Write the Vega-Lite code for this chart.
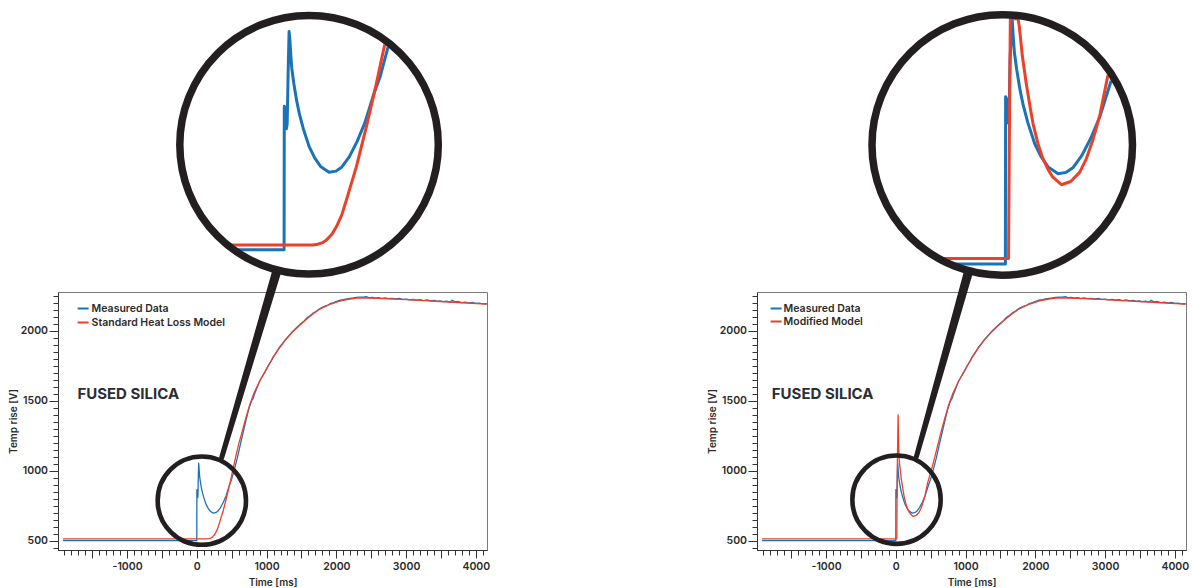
{
"$schema": "https://vega.github.io/schema/vega-lite/v6.json",
"padding": {"left": 8, "top": 10, "right": 5, "bottom": 3},
"background": "white",
"config": {
  "view": {"stroke": "#7a7a7a", "strokeWidth": 1},
  "font": "Inter",
  "axis": {"grid": false, "labelFont": "Inter", "labelFontSize": 10.5, "labelFontWeight": 600, "labelColor": "#2b2b2b", "titleFont": "Inter", "titleFontSize": 10, "titleFontWeight": 600, "titleColor": "#2b2b2b", "domainColor": "#333333", "tickColor": "#333333", "tickWidth": 1}
},
"datasets": {
  "curves": [
{"s":"Measured Data","t":-1920,"v":500},{"s":"Measured Data","t":-1500,"v":500},{"s":"Measured Data","t":-1000,"v":500},{"s":"Measured Data","t":-500,"v":500},{"s":"Measured Data","t":-300,"v":500},{"s":"Measured Data","t":-280,"v":500},{"s":"Measured Data","t":-260,"v":500},{"s":"Measured Data","t":-240,"v":500},{"s":"Measured Data","t":-220,"v":500},{"s":"Measured Data","t":-200,"v":500},{"s":"Measured Data","t":-100,"v":500},{"s":"Measured Data","t":0,"v":500},{"s":"Measured Data","t":1,"v":865},{"s":"Measured Data","t":5,"v":860},{"s":"Measured Data","t":12,"v":808},{"s":"Measured Data","t":16,"v":820},{"s":"Measured Data","t":21,"v":950},{"s":"Measured Data","t":26,"v":1055},{"s":"Measured Data","t":30,"v":1035},{"s":"Measured Data","t":35,"v":995},{"s":"Measured Data","t":40,"v":962},{"s":"Measured Data","t":50,"v":925},{"s":"Measured Data","t":65,"v":880},{"s":"Measured Data","t":80,"v":845},{"s":"Measured Data","t":100,"v":808},{"s":"Measured Data","t":130,"v":763},{"s":"Measured Data","t":160,"v":733},{"s":"Measured Data","t":190,"v":712},{"s":"Measured Data","t":234,"v":697},{"s":"Measured Data","t":270,"v":700},{"s":"Measured Data","t":300,"v":710},{"s":"Measured Data","t":340,"v":737},{"s":"Measured Data","t":380,"v":775},{"s":"Measured Data","t":420,"v":822},{"s":"Measured Data","t":470,"v":900},{"s":"Measured Data","t":500,"v":940},{"s":"Measured Data","t":542,"v":1017},{"s":"Measured Data","t":580,"v":1090},{"s":"Measured Data","t":640,"v":1222},{"s":"Measured Data","t":700,"v":1350},{"s":"Measured Data","t":740,"v":1432},{"s":"Measured Data","t":770,"v":1480},{"s":"Measured Data","t":790,"v":1505},{"s":"Measured Data","t":805,"v":1515},{"s":"Measured Data","t":830,"v":1552},{"s":"Measured Data","t":860,"v":1590},{"s":"Measured Data","t":900,"v":1640},{"s":"Measured Data","t":940,"v":1676},{"s":"Measured Data","t":976,"v":1706},{"s":"Measured Data","t":1010,"v":1738},{"s":"Measured Data","t":1040,"v":1765},{"s":"Measured Data","t":1070,"v":1788},{"s":"Measured Data","t":1095,"v":1815},{"s":"Measured Data","t":1130,"v":1840},{"s":"Measured Data","t":1180,"v":1880},{"s":"Measured Data","t":1220,"v":1905},{"s":"Measured Data","t":1263,"v":1935},{"s":"Measured Data","t":1320,"v":1966},{"s":"Measured Data","t":1380,"v":2000},{"s":"Measured Data","t":1440,"v":2028},{"s":"Measured Data","t":1502,"v":2057},{"s":"Measured Data","t":1540,"v":2072},{"s":"Measured Data","t":1580,"v":2095},{"s":"Measured Data","t":1620,"v":2108},{"s":"Measured Data","t":1669,"v":2129},{"s":"Measured Data","t":1710,"v":2140},{"s":"Measured Data","t":1750,"v":2155},{"s":"Measured Data","t":1790,"v":2168},{"s":"Measured Data","t":1836,"v":2178},{"s":"Measured Data","t":1880,"v":2186},{"s":"Measured Data","t":1920,"v":2198},{"s":"Measured Data","t":1960,"v":2203},{"s":"Measured Data","t":2004,"v":2212},{"s":"Measured Data","t":2050,"v":2220},{"s":"Measured Data","t":2100,"v":2224},{"s":"Measured Data","t":2150,"v":2230},{"s":"Measured Data","t":2195,"v":2233},{"s":"Measured Data","t":2240,"v":2236},{"s":"Measured Data","t":2290,"v":2240},{"s":"Measured Data","t":2340,"v":2243},{"s":"Measured Data","t":2386,"v":2243},{"s":"Measured Data","t":2430,"v":2246},{"s":"Measured Data","t":2470,"v":2238},{"s":"Measured Data","t":2520,"v":2241},{"s":"Measured Data","t":2560,"v":2235},{"s":"Measured Data","t":2610,"v":2238},{"s":"Measured Data","t":2650,"v":2232},{"s":"Measured Data","t":2700,"v":2236},{"s":"Measured Data","t":2750,"v":2231},{"s":"Measured Data","t":2800,"v":2234},{"s":"Measured Data","t":2850,"v":2229},{"s":"Measured Data","t":2900,"v":2233},{"s":"Measured Data","t":2950,"v":2226},{"s":"Measured Data","t":3008,"v":2228},{"s":"Measured Data","t":3050,"v":2223},{"s":"Measured Data","t":3100,"v":2227},{"s":"Measured Data","t":3150,"v":2220},{"s":"Measured Data","t":3200,"v":2224},{"s":"Measured Data","t":3250,"v":2218},{"s":"Measured Data","t":3300,"v":2222},{"s":"Measured Data","t":3350,"v":2215},{"s":"Measured Data","t":3400,"v":2219},{"s":"Measured Data","t":3450,"v":2212},{"s":"Measured Data","t":3486,"v":2216},{"s":"Measured Data","t":3530,"v":2210},{"s":"Measured Data","t":3580,"v":2213},{"s":"Measured Data","t":3630,"v":2206},{"s":"Measured Data","t":3660,"v":2220},{"s":"Measured Data","t":3700,"v":2208},{"s":"Measured Data","t":3750,"v":2211},{"s":"Measured Data","t":3800,"v":2203},{"s":"Measured Data","t":3850,"v":2207},{"s":"Measured Data","t":3900,"v":2200},{"s":"Measured Data","t":3950,"v":2204},{"s":"Measured Data","t":4000,"v":2197},{"s":"Measured Data","t":4050,"v":2200},{"s":"Measured Data","t":4100,"v":2194},{"s":"Measured Data","t":4156,"v":2195},
{"s":"Standard Heat Loss Model","t":-1920,"v":512},{"s":"Standard Heat Loss Model","t":-1500,"v":512},{"s":"Standard Heat Loss Model","t":-1000,"v":512},{"s":"Standard Heat Loss Model","t":-500,"v":512},{"s":"Standard Heat Loss Model","t":-300,"v":512},{"s":"Standard Heat Loss Model","t":-280,"v":512},{"s":"Standard Heat Loss Model","t":-260,"v":512},{"s":"Standard Heat Loss Model","t":-240,"v":512},{"s":"Standard Heat Loss Model","t":-220,"v":512},{"s":"Standard Heat Loss Model","t":-200,"v":512},{"s":"Standard Heat Loss Model","t":0,"v":512},{"s":"Standard Heat Loss Model","t":100,"v":512},{"s":"Standard Heat Loss Model","t":150,"v":512},{"s":"Standard Heat Loss Model","t":175,"v":514},{"s":"Standard Heat Loss Model","t":200,"v":518},{"s":"Standard Heat Loss Model","t":221,"v":525},{"s":"Standard Heat Loss Model","t":250,"v":540},{"s":"Standard Heat Loss Model","t":273,"v":559},{"s":"Standard Heat Loss Model","t":300,"v":588},{"s":"Standard Heat Loss Model","t":325,"v":627},{"s":"Standard Heat Loss Model","t":350,"v":668},{"s":"Standard Heat Loss Model","t":377,"v":712},{"s":"Standard Heat Loss Model","t":400,"v":757},{"s":"Standard Heat Loss Model","t":429,"v":814},{"s":"Standard Heat Loss Model","t":455,"v":868},{"s":"Standard Heat Loss Model","t":481,"v":924},{"s":"Standard Heat Loss Model","t":524,"v":1022},{"s":"Standard Heat Loss Model","t":560,"v":1105},{"s":"Standard Heat Loss Model","t":600,"v":1190},{"s":"Standard Heat Loss Model","t":640,"v":1262},{"s":"Standard Heat Loss Model","t":700,"v":1372},{"s":"Standard Heat Loss Model","t":760,"v":1475},{"s":"Standard Heat Loss Model","t":820,"v":1556},{"s":"Standard Heat Loss Model","t":900,"v":1640},{"s":"Standard Heat Loss Model","t":976,"v":1708},{"s":"Standard Heat Loss Model","t":1040,"v":1764},{"s":"Standard Heat Loss Model","t":1095,"v":1812},{"s":"Standard Heat Loss Model","t":1180,"v":1876},{"s":"Standard Heat Loss Model","t":1263,"v":1931},{"s":"Standard Heat Loss Model","t":1380,"v":1997},{"s":"Standard Heat Loss Model","t":1502,"v":2054},{"s":"Standard Heat Loss Model","t":1580,"v":2088},{"s":"Standard Heat Loss Model","t":1669,"v":2124},{"s":"Standard Heat Loss Model","t":1750,"v":2152},{"s":"Standard Heat Loss Model","t":1836,"v":2174},{"s":"Standard Heat Loss Model","t":1920,"v":2193},{"s":"Standard Heat Loss Model","t":2004,"v":2207},{"s":"Standard Heat Loss Model","t":2100,"v":2220},{"s":"Standard Heat Loss Model","t":2195,"v":2229},{"s":"Standard Heat Loss Model","t":2290,"v":2235},{"s":"Standard Heat Loss Model","t":2386,"v":2237},{"s":"Standard Heat Loss Model","t":2500,"v":2236},{"s":"Standard Heat Loss Model","t":2700,"v":2232},{"s":"Standard Heat Loss Model","t":3008,"v":2224},{"s":"Standard Heat Loss Model","t":3250,"v":2218},{"s":"Standard Heat Loss Model","t":3486,"v":2211},{"s":"Standard Heat Loss Model","t":3800,"v":2202},{"s":"Standard Heat Loss Model","t":4156,"v":2192},
{"s":"Modified Model","t":-1920,"v":512},{"s":"Modified Model","t":-1500,"v":512},{"s":"Modified Model","t":-1000,"v":512},{"s":"Modified Model","t":-500,"v":512},{"s":"Modified Model","t":-300,"v":512},{"s":"Modified Model","t":-280,"v":512},{"s":"Modified Model","t":-260,"v":512},{"s":"Modified Model","t":-240,"v":512},{"s":"Modified Model","t":-220,"v":512},{"s":"Modified Model","t":-200,"v":512},{"s":"Modified Model","t":0,"v":512},{"s":"Modified Model","t":14,"v":512},{"s":"Modified Model","t":18,"v":800},{"s":"Modified Model","t":22,"v":1035},{"s":"Modified Model","t":28,"v":1250},{"s":"Modified Model","t":33,"v":1400},{"s":"Modified Model","t":38,"v":1250},{"s":"Modified Model","t":44,"v":1130},{"s":"Modified Model","t":50,"v":1070},{"s":"Modified Model","t":56,"v":1036},{"s":"Modified Model","t":62,"v":1018},{"s":"Modified Model","t":75,"v":955},{"s":"Modified Model","t":93,"v":893},{"s":"Modified Model","t":110,"v":842},{"s":"Modified Model","t":123,"v":806},{"s":"Modified Model","t":145,"v":762},{"s":"Modified Model","t":167,"v":730},{"s":"Modified Model","t":190,"v":706},{"s":"Modified Model","t":210,"v":690},{"s":"Modified Model","t":249,"v":673},{"s":"Modified Model","t":290,"v":680},{"s":"Modified Model","t":330,"v":700},{"s":"Modified Model","t":360,"v":730},{"s":"Modified Model","t":389,"v":771},{"s":"Modified Model","t":420,"v":825},{"s":"Modified Model","t":456,"v":913},{"s":"Modified Model","t":500,"v":988},{"s":"Modified Model","t":540,"v":1062},{"s":"Modified Model","t":580,"v":1140},{"s":"Modified Model","t":640,"v":1262},{"s":"Modified Model","t":700,"v":1372},{"s":"Modified Model","t":760,"v":1475},{"s":"Modified Model","t":820,"v":1556},{"s":"Modified Model","t":900,"v":1640},{"s":"Modified Model","t":976,"v":1708},{"s":"Modified Model","t":1040,"v":1764},{"s":"Modified Model","t":1095,"v":1812},{"s":"Modified Model","t":1180,"v":1876},{"s":"Modified Model","t":1263,"v":1931},{"s":"Modified Model","t":1380,"v":1997},{"s":"Modified Model","t":1502,"v":2054},{"s":"Modified Model","t":1580,"v":2088},{"s":"Modified Model","t":1669,"v":2124},{"s":"Modified Model","t":1750,"v":2152},{"s":"Modified Model","t":1836,"v":2174},{"s":"Modified Model","t":1920,"v":2193},{"s":"Modified Model","t":2004,"v":2207},{"s":"Modified Model","t":2100,"v":2220},{"s":"Modified Model","t":2195,"v":2229},{"s":"Modified Model","t":2290,"v":2235},{"s":"Modified Model","t":2386,"v":2237},{"s":"Modified Model","t":2500,"v":2236},{"s":"Modified Model","t":2700,"v":2232},{"s":"Modified Model","t":3008,"v":2224},{"s":"Modified Model","t":3250,"v":2218},{"s":"Modified Model","t":3486,"v":2211},{"s":"Modified Model","t":3800,"v":2202},{"s":"Modified Model","t":4156,"v":2192}
  ],
  "lens": [
    {"p":"L","k":"small","t":72,"v":786},
    {"p":"L","k":"wedge","t":357,"v":1095},
    {"p":"L","k":"wedge","t":1136,"v":2410},
    {"p":"L","k":"big","t":130,"v":767},
    {"p":"R","k":"small","t":10,"v":793},
    {"p":"R","k":"wedge","t":296,"v":1103},
    {"p":"R","k":"wedge","t":1034,"v":2410},
    {"p":"R","k":"big","t":-14,"v":760}
  ],
  "notes": [
    {"p":"L","label":"FUSED SILICA","t":-1712,"v":1546},
    {"p":"R","label":"FUSED SILICA","t":-1778,"v":1546}
  ]
},
"spacing": 270,
"bounds": "flush",
"resolve": {"scale": {"color": "independent", "size": "independent"}, "legend": {"color": "independent"}},
"hconcat": [
{
  "width": 429, "height": 258,
  "resolve": {"scale": {"x": "independent", "y": "independent"}},
  "layer": [
    {
      "resolve": {"axis": {"x": "independent", "y": "independent"}},
      "layer": [
        {
          "data": {"name": "curves"},
          "transform": [{"filter": {"field": "s", "oneOf": ["Measured Data", "Standard Heat Loss Model"]}}],
          "mark": {"type": "line", "strokeWidth": 1.3, "strokeJoin": "round", "clip": false},
          "encoding": {
            "x": {"field": "t", "type": "quantitative", "scale": {"domain": [-1990, 4160], "nice": false, "zero": false},
                  "axis": {"orient": "bottom", "values": [-1500,-1000,-500,0,500,1000,1500,2000,2500,3000,3500,4000], "labelExpr": "datum.value % 1000 === 0 ? '' + datum.value : ''", "tickSize": 8, "labelPadding": 3, "title": "Time [ms]", "titlePadding": 6, "labelFlush": false, "labelOverlap": false}},
            "y": {"field": "v", "type": "quantitative", "scale": {"domain": [433, 2279], "nice": false, "zero": false},
                  "axis": {"orient": "left", "values": [500,1000,1500,2000], "labelExpr": "'' + datum.value", "tickSize": 9, "labelPadding": 1.5, "title": "Temp rise [V]", "titlePadding": 1.5, "labelFlush": false}},
            "color": {"field": "s", "type": "nominal",
                      "scale": {"domain": ["Measured Data", "Standard Heat Loss Model"], "range": ["#1a72b8", "#ec4028"]},
                      "legend": {"title": null, "orient": "top-left", "offset": 9.5, "padding": 0, "symbolType": "stroke", "symbolSize": 121, "symbolStrokeWidth": 2, "symbolOffset": 8.6, "labelOffset": 2, "rowPadding": 2, "labelFont": "Inter", "labelFontSize": 10.5, "labelFontWeight": 600, "labelColor": "#2b2b2b"}}
          }
        },
        {
          "data": {"name": "lens"},
          "transform": [{"filter": "datum.p === 'L' && datum.k === 'small'"}],
          "mark": {"type": "point", "shape": "circle", "size": 7800, "filled": false, "color": "#231f20", "strokeWidth": 4.6, "strokeJoin": "round", "opacity": 1, "clip": false},
          "encoding": {
            "x": {"field": "t", "type": "quantitative", "scale": {"domain": [-1990, 4160], "nice": false, "zero": false},
                  "axis": {"orient": "bottom", "values": [-1900,-1800,-1700,-1600,-1500,-1400,-1300,-1200,-1100,-1000,-900,-800,-700,-600,-500,-400,-300,-200,-100,0,100,200,300,400,500,600,700,800,900,1000,1100,1200,1300,1400,1500,1600,1700,1800,1900,2000,2100,2200,2300,2400,2500,2600,2700,2800,2900,3000,3100,3200,3300,3400,3500,3600,3700,3800,3900,4000,4100], "tickSize": 5, "labels": false, "domain": false, "title": null}},
            "y": {"field": "v", "type": "quantitative", "scale": {"domain": [433, 2279], "nice": false, "zero": false},
                  "axis": {"orient": "left", "values": [450,500,550,600,650,700,750,800,850,900,950,1000,1050,1100,1150,1200,1250,1300,1350,1400,1450,1500,1550,1600,1650,1700,1750,1800,1850,1900,1950,2000,2050,2100,2150,2200,2250], "tickSize": 5, "labels": false, "domain": false, "title": null}}
          }
        },
        {
          "data": {"name": "lens"},
          "transform": [{"filter": "datum.p === 'L' && datum.k === 'wedge'"}],
          "mark": {"type": "trail", "color": "#231f20", "clip": false},
          "encoding": {
            "x": {"field": "t", "type": "quantitative", "scale": {"domain": [-1990, 4160], "nice": false, "zero": false}, "axis": null},
            "y": {"field": "v", "type": "quantitative", "scale": {"domain": [433, 2279], "nice": false, "zero": false}, "axis": null},
            "size": {"field": "v", "type": "quantitative", "scale": {"domain": [1095, 2410], "range": [5, 9]}, "legend": null}
          }
        },
        {
          "data": {"name": "notes"},
          "transform": [{"filter": "datum.p === 'L'"}],
          "mark": {"type": "text", "align": "left", "baseline": "middle", "font": "Inter", "fontSize": 15, "fontWeight": 700, "color": "#2b2e33"},
          "encoding": {
            "x": {"field": "t", "type": "quantitative", "scale": {"domain": [-1990, 4160], "nice": false, "zero": false}, "axis": null},
            "y": {"field": "v", "type": "quantitative", "scale": {"domain": [433, 2279], "nice": false, "zero": false}, "axis": null},
            "text": {"field": "label"}
          }
        }
      ]
    },
    {
      "layer": [
        {
          "data": {"name": "curves"},
          "transform": [
            {"filter": {"field": "s", "oneOf": ["Measured Data", "Standard Heat Loss Model"]}},
            {"filter": "pow((datum.t - 130) * 0.192, 2) + pow((datum.v - 767) * 0.393, 2) <= 16900"}
          ],
          "mark": {"type": "line", "strokeWidth": 3, "strokeJoin": "round", "clip": false},
          "encoding": {
            "x": {"field": "t", "type": "quantitative", "scale": {"domain": [-1177.6, 1056.8], "nice": false, "zero": false}, "axis": null},
            "y": {"field": "v", "type": "quantitative", "scale": {"domain": [-264.1, 392.4], "nice": false, "zero": false}, "axis": null},
            "color": {"field": "s", "type": "nominal"}
          }
        },
        {
          "data": {"name": "lens"},
          "transform": [{"filter": "datum.p === 'L' && datum.k === 'big'"}],
          "mark": {"type": "point", "shape": "circle", "size": 66822, "filled": false, "color": "#231f20", "strokeWidth": 7.5, "strokeJoin": "round", "opacity": 1, "clip": false},
          "encoding": {
            "x": {"field": "t", "type": "quantitative", "scale": {"domain": [-1177.6, 1056.8], "nice": false, "zero": false}, "axis": null},
            "y": {"field": "v", "type": "quantitative", "scale": {"domain": [-264.1, 392.4], "nice": false, "zero": false}, "axis": null}
          }
        }
      ]
    }
  ]
},
{
  "width": 429, "height": 258,
  "resolve": {"scale": {"x": "independent", "y": "independent"}},
  "layer": [
    {
      "resolve": {"axis": {"x": "independent", "y": "independent"}},
      "layer": [
        {
          "data": {"name": "curves"},
          "transform": [{"filter": {"field": "s", "oneOf": ["Measured Data", "Modified Model"]}}],
          "mark": {"type": "line", "strokeWidth": 1.3, "strokeJoin": "round", "clip": false},
          "encoding": {
            "x": {"field": "t", "type": "quantitative", "scale": {"domain": [-1990, 4160], "nice": false, "zero": false},
                  "axis": {"orient": "bottom", "values": [-1500,-1000,-500,0,500,1000,1500,2000,2500,3000,3500,4000], "labelExpr": "datum.value % 1000 === 0 ? '' + datum.value : ''", "tickSize": 8, "labelPadding": 3, "title": "Time [ms]", "titlePadding": 6, "labelFlush": false, "labelOverlap": false}},
            "y": {"field": "v", "type": "quantitative", "scale": {"domain": [433, 2279], "nice": false, "zero": false},
                  "axis": {"orient": "left", "values": [500,1000,1500,2000], "labelExpr": "'' + datum.value", "tickSize": 9, "labelPadding": 1.5, "title": "Temp rise [V]", "titlePadding": 1.5, "labelFlush": false}},
            "color": {"field": "s", "type": "nominal",
                      "scale": {"domain": ["Measured Data", "Modified Model"], "range": ["#1a72b8", "#ec4028"]},
                      "legend": {"title": null, "orient": "top-left", "offset": 9.5, "padding": 0, "symbolType": "stroke", "symbolSize": 121, "symbolStrokeWidth": 2, "symbolOffset": 2.6, "labelOffset": 1, "rowPadding": 1, "labelFont": "Inter", "labelFontSize": 10.5, "labelFontWeight": 600, "labelColor": "#2b2b2b"}}
          }
        },
        {
          "data": {"name": "lens"},
          "transform": [{"filter": "datum.p === 'R' && datum.k === 'small'"}],
          "mark": {"type": "point", "shape": "circle", "size": 7800, "filled": false, "color": "#231f20", "strokeWidth": 4.6, "strokeJoin": "round", "opacity": 1, "clip": false},
          "encoding": {
            "x": {"field": "t", "type": "quantitative", "scale": {"domain": [-1990, 4160], "nice": false, "zero": false},
                  "axis": {"orient": "bottom", "values": [-1900,-1800,-1700,-1600,-1500,-1400,-1300,-1200,-1100,-1000,-900,-800,-700,-600,-500,-400,-300,-200,-100,0,100,200,300,400,500,600,700,800,900,1000,1100,1200,1300,1400,1500,1600,1700,1800,1900,2000,2100,2200,2300,2400,2500,2600,2700,2800,2900,3000,3100,3200,3300,3400,3500,3600,3700,3800,3900,4000,4100], "tickSize": 5, "labels": false, "domain": false, "title": null}},
            "y": {"field": "v", "type": "quantitative", "scale": {"domain": [433, 2279], "nice": false, "zero": false},
                  "axis": {"orient": "left", "values": [450,500,550,600,650,700,750,800,850,900,950,1000,1050,1100,1150,1200,1250,1300,1350,1400,1450,1500,1550,1600,1650,1700,1750,1800,1850,1900,1950,2000,2050,2100,2150,2200,2250], "tickSize": 5, "labels": false, "domain": false, "title": null}}
          }
        },
        {
          "data": {"name": "lens"},
          "transform": [{"filter": "datum.p === 'R' && datum.k === 'wedge'"}],
          "mark": {"type": "trail", "color": "#231f20", "clip": false},
          "encoding": {
            "x": {"field": "t", "type": "quantitative", "scale": {"domain": [-1990, 4160], "nice": false, "zero": false}, "axis": null},
            "y": {"field": "v", "type": "quantitative", "scale": {"domain": [433, 2279], "nice": false, "zero": false}, "axis": null},
            "size": {"field": "v", "type": "quantitative", "scale": {"domain": [1103, 2410], "range": [5, 9]}, "legend": null}
          }
        },
        {
          "data": {"name": "notes"},
          "transform": [{"filter": "datum.p === 'R'"}],
          "mark": {"type": "text", "align": "left", "baseline": "middle", "font": "Inter", "fontSize": 15, "fontWeight": 700, "color": "#2b2e33"},
          "encoding": {
            "x": {"field": "t", "type": "quantitative", "scale": {"domain": [-1990, 4160], "nice": false, "zero": false}, "axis": null},
            "y": {"field": "v", "type": "quantitative", "scale": {"domain": [433, 2279], "nice": false, "zero": false}, "axis": null},
            "text": {"field": "label"}
          }
        }
      ]
    },
    {
      "layer": [
        {
          "data": {"name": "curves"},
          "transform": [
            {"filter": {"field": "s", "oneOf": ["Measured Data", "Modified Model"]}},
            {"filter": "pow((datum.t + 14) * 0.225, 2) + pow((datum.v - 760) * 0.458, 2) <= 16900"}
          ],
          "mark": {"type": "line", "strokeWidth": 3, "strokeJoin": "round", "clip": false},
          "encoding": {
            "x": {"field": "t", "type": "quantitative", "scale": {"domain": [-1104, 802.7], "nice": false, "zero": false}, "axis": null},
            "y": {"field": "v", "type": "quantitative", "scale": {"domain": [-124.5, 438.8], "nice": false, "zero": false}, "axis": null},
            "color": {"field": "s", "type": "nominal"}
          }
        },
        {
          "data": {"name": "lens"},
          "transform": [{"filter": "datum.p === 'R' && datum.k === 'big'"}],
          "mark": {"type": "point", "shape": "circle", "size": 67860, "filled": false, "color": "#231f20", "strokeWidth": 7.5, "strokeJoin": "round", "opacity": 1, "clip": false},
          "encoding": {
            "x": {"field": "t", "type": "quantitative", "scale": {"domain": [-1104, 802.7], "nice": false, "zero": false}, "axis": null},
            "y": {"field": "v", "type": "quantitative", "scale": {"domain": [-124.5, 438.8], "nice": false, "zero": false}, "axis": null}
          }
        }
      ]
    }
  ]
}
]
}
